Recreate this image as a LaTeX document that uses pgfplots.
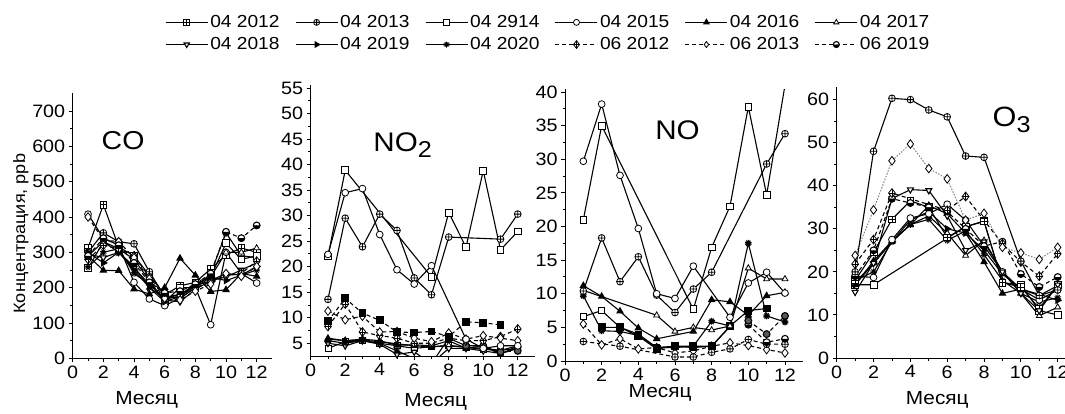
\documentclass[border=0pt]{standalone}
\usepackage{fontspec}
\setmainfont{Liberation Sans}[FakeStretch=1.1]
\usepackage{pgfplots}
\pgfplotsset{compat=1.18}
\usetikzlibrary{plotmarks}
\newcommand\fs[1]{\fontsize{#1}{#1}\selectfont}
\newcommand\lgd[1]{\fs{17.5}#1}

\pgfdeclareplotmark{boxplus}{%
  \pgfpathrectangle{\pgfqpoint{-\pgfplotmarksize}{-\pgfplotmarksize}}{\pgfqpoint{2\pgfplotmarksize}{2\pgfplotmarksize}}%
  \pgfusepathqfillstroke
  \pgfpathmoveto{\pgfqpoint{-\pgfplotmarksize}{0pt}}\pgfpathlineto{\pgfqpoint{\pgfplotmarksize}{0pt}}%
  \pgfpathmoveto{\pgfqpoint{0pt}{-\pgfplotmarksize}}\pgfpathlineto{\pgfqpoint{0pt}{\pgfplotmarksize}}%
  \pgfusepathqstroke}
\pgfdeclareplotmark{diamondplus}{%
  \pgfpathmoveto{\pgfqpoint{0pt}{1.3\pgfplotmarksize}}%
  \pgfpathlineto{\pgfqpoint{\pgfplotmarksize}{0pt}}%
  \pgfpathlineto{\pgfqpoint{0pt}{-1.3\pgfplotmarksize}}%
  \pgfpathlineto{\pgfqpoint{-\pgfplotmarksize}{0pt}}%
  \pgfpathclose\pgfusepathqfillstroke
  \pgfpathmoveto{\pgfqpoint{-\pgfplotmarksize}{0pt}}\pgfpathlineto{\pgfqpoint{\pgfplotmarksize}{0pt}}%
  \pgfpathmoveto{\pgfqpoint{0pt}{-1.3\pgfplotmarksize}}\pgfpathlineto{\pgfqpoint{0pt}{1.3\pgfplotmarksize}}%
  \pgfusepathqstroke}

\pgfplotsset{
  panel/.style={scale only axis, axis lines*=left, tick align=outside,
    xmin=0, xmax=13, xtick={0,2,...,12}, minor x tick num=1, minor y tick num=1,
    major tick length=4bp, minor tick length=2.5bp,
    tick style={black, line width=0.9bp}, axis line style={black, line width=0.9bp},
    tick label style={font=\fs{18}}, /pgf/number format/assume math mode=true,
    xlabel={Месяц}, xlabel style={font=\fs{19}, anchor=center},
    mark size=3.4bp},
  base/.style={black, line width=1.1bp, solid, mark options={solid, fill=white, line width=0.8bp}},
  dsh/.style={dash pattern=on 4bp off 3bp},
  s1/.style={base, mark=boxplus},
  s2/.style={base, mark=oplus*},
  s3/.style={base, mark=square*},
  s4/.style={base, mark=*},
  s5/.style={base, mark=triangle*, mark options={solid, fill=black}},
  s6/.style={base, mark=triangle*},
  s7/.style={base, mark=triangle*, mark options={solid, fill=white, rotate=180}},
  s8/.style={base, mark=triangle*, mark options={solid, fill=black, rotate=-90}},
  s9/.style={base, mark=10-pointed star},
  s10/.style={base, dsh, mark=diamondplus},
  s11/.style={base, dsh, mark=diamond*, mark size=4.3bp},
  s12/.style={base, dsh, mark=halfcircle*, mark options={solid, fill=white, mark color=black}},
  sq/.style={base, mark=square*, mark options={solid, fill=black}},
  fstar/.style={base, mark=10-pointed star, mark options={solid, fill=black}},
  gcirc/.style={base, dsh, mark=*, mark options={solid, fill=gray!70!black}},
}

\begin{document}
\begin{tikzpicture}
% ---------------- CO ----------------
\begin{axis}[panel, at={(72.7bp,55.7bp)}, anchor=south west, width=199.3bp, height=265bp,
  ymin=0, ymax=750, ytick={0,100,...,700},
  xlabel style={at={(axis description cs:0.371,-0.157)}},
  ylabel={Концентрация, ppb}, ylabel style={font=\fs{16.5}, at={(axis description cs:-0.26,0.47)}, anchor=center},
  legend columns=6,
  legend style={draw=none, fill=none, at={(axis description cs:0.463,1.298)}, anchor=north west,
    inner sep=0pt, row sep=6.5bp,
    /tikz/every even column/.append style={column sep=13.5bp},
    nodes={inner xsep=2bp, inner ysep=1bp}},
  legend image code/.code={\draw[#1,mark=none,line width=1.1bp] (0bp,0bp) -- (42bp,0bp); \draw[#1,only marks,mark size=3bp] plot coordinates {(21bp,0bp)};}
]
\addlegendimage{s1}\addlegendentry{\lgd{04 2012}}
\addlegendimage{s2}\addlegendentry{\lgd{04 2013}}
\addlegendimage{s3}\addlegendentry{\lgd{04 2914}}
\addlegendimage{s4}\addlegendentry{\lgd{04 2015}}
\addlegendimage{s5}\addlegendentry{\lgd{04 2016}}
\addlegendimage{s6}\addlegendentry{\lgd{04 2017}}
\addlegendimage{s7}\addlegendentry{\lgd{04 2018}}
\addlegendimage{s8}\addlegendentry{\lgd{04 2019}}
\addlegendimage{s9}\addlegendentry{\lgd{04 2020}}
\addlegendimage{s10}\addlegendentry{\lgd{06 2012}}
\addlegendimage{s11}\addlegendentry{\lgd{06 2013}}
\addlegendimage{s12}\addlegendentry{\lgd{06 2019}}
\addplot[s1, forget plot] coordinates {(1,312)(2,435)(3,315)(4,290)(5,235)(6,180)(7,205)(8,215)(9,253)(10,293)(11,312)(12,300)};
\addplot[s2, forget plot] coordinates {(1,300)(2,355)(3,330)(4,324)(5,245)(6,175)(7,170)(8,200)(9,240)(10,355)(11,290)(12,285)};
\addplot[s3, forget plot] coordinates {(1,255)(2,330)(3,310)(4,280)(5,220)(6,160)(7,200)(8,200)(9,230)(10,326)(11,280)(12,290)};
\addplot[s4, forget plot] coordinates {(1,408)(2,340)(3,320)(4,215)(5,168)(6,149)(7,170)(8,200)(9,95)(10,300)(11,240)(12,213)};
\addplot[s5, forget plot] coordinates {(1,290)(2,249)(3,248)(4,196)(5,182)(6,200)(7,283)(8,235)(9,189)(10,194)(11,240)(12,232)};
\addplot[s6, forget plot] coordinates {(1,290)(2,330)(3,300)(4,260)(5,200)(6,170)(7,180)(8,210)(9,230)(10,300)(11,300)(12,312)};
\addplot[s7, forget plot] coordinates {(1,295)(2,285)(3,300)(4,255)(5,210)(6,165)(7,160)(8,195)(9,220)(10,230)(11,250)(12,270)};
\addplot[s8, forget plot] coordinates {(1,300)(2,270)(3,300)(4,250)(5,200)(6,160)(7,175)(8,210)(9,230)(10,220)(11,235)(12,260)};
\addplot[s9, forget plot] coordinates {(1,258)(2,300)(3,310)(4,240)(5,210)(6,170)(7,175)(8,205)(9,220)(10,240)(11,235)(12,250)};
\addplot[s10, forget plot] coordinates {(1,280)(2,320)(3,310)(4,290)(5,230)(6,175)(7,180)(8,200)(9,215)(10,235)(11,240)(12,275)};
\addplot[s11, forget plot] coordinates {(1,400)(2,335)(3,330)(4,285)(5,225)(6,170)(7,165)(8,190)(9,210)(10,240)(11,232)(12,260)};
\addplot[s12, forget plot] coordinates {(1,290)(2,340)(3,320)(4,270)(5,215)(6,185)(7,190)(8,210)(9,240)(10,358)(11,340)(12,376)};
\node[anchor=base west, font=\fs{26}] at (axis description cs:0.128,0.789) {CO};
\end{axis}
% ---------------- NO2 ----------------
\begin{axis}[panel, at={(310.7bp,58bp)}, anchor=south west, width=224.3bp, height=271bp,
  ymin=2.5, ymax=55.6, ytick={5,10,...,55},
  xlabel style={at={(axis description cs:0.557,-0.17)}}]
\addplot[s3, mark size=3bp] coordinates {(1,4.0)(2,5.3)(3,5.5)(4,5.0)(5,4.5)(6,4.0)(7,4.3)(8,4.5)(9,4.2)(10,3.8)(11,3.6)(12,4.0)};
\addplot[s6] coordinates {(1,6.0)(2,5.5)(3,5.6)(4,5.3)(5,4.9)(6,4.5)(7,4.3)(8,4.6)(9,4.2)(10,4.0)(11,3.6)(12,4.5)};
\addplot[s7] coordinates {(1,5.0)(2,4.5)(3,5.5)(4,4.8)(5,2.8)(6,3.3)(7,1.0)(8,4.0)(9,4.0)(10,3.5)(11,3.0)(12,4.0)};
\addplot[s9] coordinates {(1,5.5)(2,5.0)(3,5.5)(4,5.0)(5,3.5)(6,2.0)(7,1.0)(8,6.0)(9,4.5)(10,4.5)(11,3.0)(12,4.0)};
\addplot[s5] coordinates {(1,5.8)(2,5.5)(3,5.8)(4,5.5)(5,4.6)(6,4.7)(7,4.5)(8,5.5)(9,4.0)(10,4.5)(11,2.8)(12,4.5)};
\addplot[gcirc] coordinates {(9,4.5)(10,4.5)(11,3.3)(12,3.5)};
\addplot[s10] coordinates {(1,8.3)(2,12.7)(3,7.2)(4,6.5)(5,6.0)(6,5.0)(7,5.0)(8,6.0)(9,5.5)(10,5.5)(11,6.3)(12,7.8)};
\addplot[s11] coordinates {(1,11.3)(2,9.6)(3,10.3)(4,7.2)(5,7.3)(6,6.0)(7,5.3)(8,7.0)(9,5.8)(10,6.5)(11,6.0)(12,5.5)};
\addplot[sq, dsh] coordinates {(1,9.3)(2,13.8)(3,10.9)(4,9.5)(5,7.2)(6,7.1)(7,7.3)(8,6.3)(9,9.2)(10,9.0)(11,8.6)};
\addplot[s2] coordinates {(1,13.6)(2,29.5)(3,23.9)(4,30.3)(5,27.1)(6,17.8)(7,14.5)(8,25.8)(11,25.4)(12,30.3)};
\addplot[s3] coordinates {(1,22.0)(2,38.9)(7,18.0)(8,30.6)(9,23.8)(10,38.8)(11,23.3)(12,26.9)};
\addplot[s4] coordinates {(1,22.4)(2,34.5)(3,35.3)(4,26.3)(5,19.4)(6,16.6)(7,20.2)(9,5.8)(10,4.0)(11,4.5)(12,4.5)};
\node[anchor=base west, font=\fs{27}] at (axis description cs:0.264,0.754) {NO\raisebox{-5.5bp}{\fs{23}2}};
\end{axis}
% ---------------- NO ----------------
\begin{axis}[panel, at={(565bp,53bp)}, anchor=south west, width=238.3bp, height=271.7bp,
  ymin=0, ymax=40.4, ytick={0,5,...,40},
  xlabel style={at={(axis description cs:0.399,-0.119)}}]
\addplot[s11] coordinates {(1,5.5)(2,2.4)(3,3.3)(4,1.8)(5,2.0)(6,1.2)(7,1.5)(8,2.2)(9,2.7)(10,2.3)(11,1.7)(12,1.2)};
\addplot[s2, dsh] coordinates {(1,2.9)(3,2.2)(6,0.6)(7,0.6)(8,1.3)(9,1.8)(10,3.2)(11,2.5)(12,2.5)};
\addplot[s12] coordinates {(10,5.4)(11,2.8)(12,3.3)};
\addplot[gcirc] coordinates {(10,6.0)(11,4.0)(12,6.7)};
\addplot[s3, mark size=3bp] coordinates {(1,6.6)(2,7.5)(3,5.0)(4,4.0)(5,2.0)(6,2.2)(7,2.0)(8,2.2)(9,5.1)};
\addplot[sq] coordinates {(2,5.0)(3,5.0)(4,3.7)(5,1.8)(6,2.2)(7,2.2)(8,2.2)(9,5.2)(10,7.5)(11,7.8)};
\addplot[fstar] coordinates {(1,9.7)(2,4.5)(3,4.4)(4,3.8)(5,2.0)(6,2.0)(7,2.2)(8,5.9)(9,5.2)(10,17.5)(11,6.7)(12,5.8)};
\addplot[s6] coordinates {(1,10.5)(5,6.8)(6,4.4)(7,5.0)(8,4.6)(9,5.2)(10,13.8)(11,12.2)(12,12.2)};
\addplot[s5] coordinates {(1,11.2)(2,9.6)(3,7.4)(4,4.9)(5,3.3)(7,4.4)(8,9.1)(9,8.8)(10,6.8)(11,9.7)(12,10.2)};
\addplot[s2] coordinates {(1,10.4)(2,18.3)(3,11.8)(4,15.5)(5,9.8)(6,7.2)(7,10.7)(8,13.2)(11,29.3)(12,33.8)};
\addplot[s3, mark indices={1,...,7}] coordinates {(1,21.0)(2,35.0)(7,7.7)(8,16.9)(9,23.0)(10,37.8)(11,24.7)(12,41.0)};
\addplot[s4] coordinates {(1,29.7)(2,38.2)(3,27.6)(4,19.7)(5,10.0)(6,9.3)(7,14.1)(9,6.5)(10,11.6)(11,13.2)(12,10.1)};
\node[anchor=base west, font=\fs{27}] at (axis description cs:0.364,0.816) {NO};
\end{axis}
% ---------------- O3 ----------------
\begin{axis}[panel, at={(836.7bp,56bp)}, anchor=south west, width=239.4bp, height=271.3bp,
  ymin=0, ymax=63, ytick={0,10,...,60},
  xlabel style={at={(axis description cs:0.42,-0.155)}}]
\addplot[s3] coordinates {(1,17)(2,17)(7,30.5)(8,31.8)(9,17.5)(10,17)(11,11)(12,10)};
\addplot[s6] coordinates {(1,17.5)(2,22)(3,27)(4,31)(5,33)(6,29)(7,23.8)(8,27.3)(9,20)(10,15)(11,9.8)(12,11.8)};
\addplot[s9] coordinates {(1,18)(2,20)(3,27)(4,31)(5,32.2)(6,27.3)(7,29.5)(8,24)(9,18)(10,15)(11,13)(12,14)};
\addplot[s8] coordinates {(1,17)(2,22)(3,27)(4,32)(5,34)(6,30)(7,29)(8,25)(9,19.5)(10,16)(11,14.8)(12,13.4)};
\addplot[s5] coordinates {(1,17)(2,22.5)(3,27.2)(4,30.9)(5,35.4)(6,33.5)(7,29)(8,22.3)(9,15)(10,16)(11,14.5)(12,16.8)};
\addplot[s4] coordinates {(1,19)(2,18.7)(3,27.5)(4,32.5)(5,33.5)(6,35.7)(7,32)(9,20)(10,16)(11,13.5)(12,15.8)};
\addplot[s1] coordinates {(1,18)(2,24.5)(3,32.2)(4,36.5)(5,35)(6,28)(7,30.5)(8,31.7)(9,17.5)(10,16.5)(11,11.5)(12,17)};
\addplot[s7] coordinates {(1,15.3)(2,22)(3,37)(4,39.1)(5,38.9)(6,33)(7,25)(8,27)(9,20)(10,15)(11,11)(12,17)};
\addplot[s12] coordinates {(1,19)(2,25)(3,37)(4,36)(5,35)(6,34)(7,30)(8,26)(9,27)(10,19.5)(11,16.5)(12,18.8)};
\addplot[s10] coordinates {(1,21.8)(2,27.5)(3,38.3)(6,34.3)(7,37.5)(9,26.5)(10,22.3)(11,19.0)(12,24.2)};
\addplot[gray, line width=1bp, dash pattern=on 1.5bp off 1.5bp, mark=diamond*, mark size=4.3bp, mark options={solid, fill=white, draw=black, line width=0.8bp}] coordinates {(1,23.8)(2,34.4)(3,45.8)(4,49.7)(5,44.0)(6,41.6)(7,32)(8,33.6)(9,25.7)(10,24.4)(11,22.9)(12,25.7)};
\addplot[s2] coordinates {(1,20)(2,48)(3,60.3)(4,60)(5,57.6)(6,56)(7,46.9)(8,46.6)(10,22.5)(11,14.5)(12,15.8)};
\node[anchor=base west, font=\fs{28}] at (axis description cs:0.637,0.853) {O\raisebox{-6bp}{\fs{23}3}};
\end{axis}
\pgfresetboundingbox
\path[use as bounding box] (0,0) rectangle (1065bp,414bp);
\end{tikzpicture}
\end{document}
